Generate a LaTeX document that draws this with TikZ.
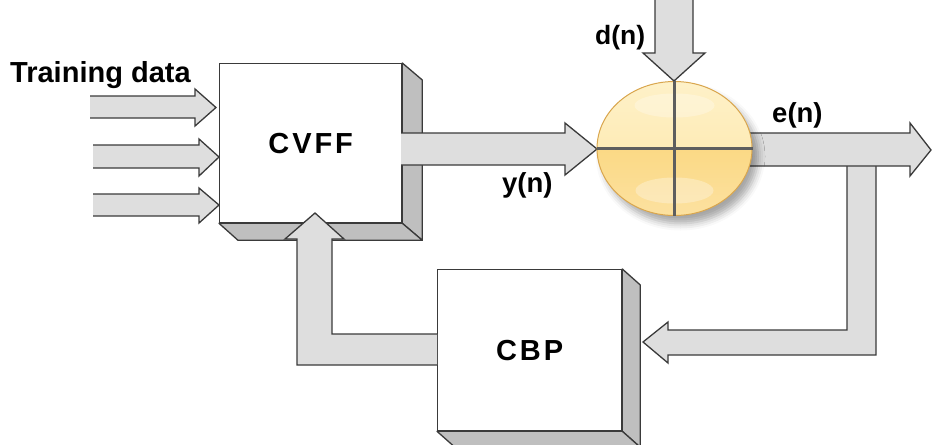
\documentclass[tikz,border=0pt]{standalone}
\usepackage{fontspec}
\setmainfont{Liberation Sans}
\usetikzlibrary{shapes.geometric,shadows.blur,calc}
\definecolor{afill}{HTML}{DEDEDE}
\definecolor{aline}{HTML}{3A3A3A}
\definecolor{depthc}{HTML}{BFBFBF}
\definecolor{ytop}{HTML}{FEF1C8}
\definecolor{ymidA}{HTML}{FDE6A6}
\definecolor{ymidB}{HTML}{FBD985}
\definecolor{ybot}{HTML}{FCE1A0}
\definecolor{yedge}{HTML}{D9A64E}
\definecolor{crossc}{HTML}{5E5E5E}
\begin{document}
\begin{tikzpicture}[x=1pt,y=-1pt,
  blockarrow/.style={fill=afill,draw=aline,line width=1.3pt,line join=miter},
  boxface/.style={fill=white,draw=aline,line width=1.3pt,inner sep=0pt,anchor=north west,
     font=\bfseries\fontsize{29}{30}\selectfont\addfontfeature{LetterSpace=10}},
  boxdepth/.style={fill=depthc,draw=aline,line width=1.3pt,line join=round},
  lbl/.style={font=\bfseries\fontsize{27.5}{30}\selectfont,inner sep=0pt,anchor=base west},
  sumnode/.style={ellipse,minimum width=155pt,minimum height=134pt,inner sep=0pt,
     draw=yedge,line width=1pt,fill=ymidB,
     blur shadow={shadow xshift=6pt,shadow yshift=-8pt,shadow blur radius=7pt,shadow opacity=35},
     path picture={
       \shade[top color=ytop,bottom color=ymidA] (path picture bounding box.north west) rectangle (path picture bounding box.east);
       \shade[top color=ymidB,bottom color=ybot] (path picture bounding box.west) rectangle (path picture bounding box.south east);
       \fill[white,opacity=0.28] ([yshift=43pt]path picture bounding box.center) ellipse (40pt and 12pt);
       \fill[white,opacity=0.3] ([yshift=-42pt]path picture bounding box.center) ellipse (39pt and 13pt);
     }},
  crossline/.style={draw=crossc,line width=3.5pt}
]
\useasboundingbox (0,0) rectangle (933,444);
\clip (0,0) rectangle (933,444);

% input arrows (training data)
\filldraw[blockarrow] (90,96) -- (195,96) -- (195,89) -- (216,107.5) -- (195,126) -- (195,118) -- (90,118);
\filldraw[blockarrow] (93,145) -- (199,145) -- (199,139) -- (219,157) -- (199,176) -- (199,168) -- (93,168);
\filldraw[blockarrow] (93,194) -- (199,194) -- (199,188) -- (219,205) -- (199,223) -- (199,216) -- (93,216);

% CVFF box
\node[boxface,minimum width=182pt,minimum height=159pt] (cvff) at (219,63) {CVFF};
\filldraw[boxdepth] (cvff.north east) -- ++(20,17) -- ([shift={(20,17)}]cvff.south east) -- (cvff.south east) -- cycle;
\filldraw[boxdepth] (cvff.south west) -- ++(19,17) -- ([shift={(20,17)}]cvff.south east) -- (cvff.south east) -- cycle;

% y(n) arrow: CVFF -> sum
\filldraw[blockarrow] (401,133) -- (565,133) -- (565,123) -- (597,149) -- (565,175) -- (565,165) -- (401,165);

% CBP box
\node[boxface,minimum width=184pt,minimum height=161pt] (cbp) at (437,269) {CBP};
\filldraw[boxdepth] (cbp.north east) -- ++(18,16) -- ([shift={(18,16)}]cbp.south east) -- (cbp.south east) -- cycle;
\filldraw[boxdepth] (cbp.south west) -- ++(18,16) -- ([shift={(18,16)}]cbp.south east) -- (cbp.south east) -- cycle;

% CBP -> CVFF feedback arrow
\filldraw[blockarrow] (437,334) -- (332,334) -- (332,239) -- (344,239) -- (315,213) -- (285,239) -- (297,239) -- (297,365) -- (437,365);

% e(n) -> CBP feedback arrow
\filldraw[blockarrow] (876,166) -- (876,355) -- (668,355) -- (668,363) -- (643,342) -- (668,322) -- (668,330) -- (847,330) -- (847,166);

% e(n) output arrow
\filldraw[blockarrow] (740,133) -- (910,133) -- (910,123) -- (931,150) -- (910,176) -- (910,166) -- (740,166);

% d(n) input arrow
\filldraw[blockarrow] (655,0) -- (655,53) -- (643,53) -- (674,81) -- (705,53) -- (693,53) -- (693,0);

% summing junction
\node[sumnode] (sum) at (674.5,148.5) {};
\draw[crossline] (sum.north) -- (sum.south);
\draw[crossline] (sum.west) -- (sum.east);

% labels
\node[lbl,font=\bfseries\fontsize{29}{30}\selectfont] (train) at (10,82) {Training data};
\node[lbl] (yn) at (502,192) {y(n)};
\node[lbl,font=\bfseries\fontsize{26.5}{30}\selectfont] (dn) at (595,45) {d(n)};
\node[lbl] (en) at (772,122) {e(n)};
\end{tikzpicture}
\end{document}
